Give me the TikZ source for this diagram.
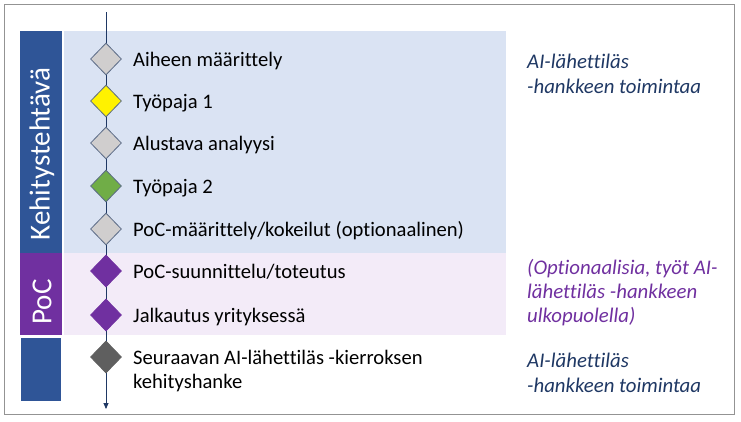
\documentclass[tikz,border=0pt]{standalone}
\usepackage{fontspec}
\setmainfont{Carlito}[Ligatures=NoCommon]
\usetikzlibrary{shapes.geometric,arrows.meta}
\definecolor{lightblue}{HTML}{DAE3F3}
\definecolor{lavender}{HTML}{F3EBF8}
\definecolor{barblue}{HTML}{2F5597}
\definecolor{barpurple}{HTML}{7030A0}
\definecolor{navy}{HTML}{1F3864}
\definecolor{dgray}{HTML}{D0CECE}
\definecolor{dedge}{HTML}{5B6B86}
\definecolor{dgreen}{HTML}{70AD47}
\definecolor{ddark}{HTML}{5F5F5F}
\tikzset{
  dia/.style={diamond,draw=dedge,line width=0.8pt,minimum width=31pt,minimum height=32pt,inner sep=0pt},
  steptext/.style={anchor=base west,font=\fontsize{20.6}{23.5}\selectfont,inner sep=0pt,text=black,align=left},
  sidetext/.style={font=\itshape\fontsize{20.8}{24.5}\selectfont,align=left,anchor=base west,inner sep=0pt},
  barlabel/.style={rotate=90,text=white,font=\fontsize{29}{30}\selectfont,inner sep=0pt}
}
\begin{document}
\begin{tikzpicture}[x=1pt,y=-1pt]
\useasboundingbox (0,0) rectangle (741,421);
\fill[white] (0,0) rectangle (741,421);
\draw[gray!85,line width=1pt] (4,4) rectangle (734,414);
% bands
\fill[lightblue] (64,31) rectangle (506,253);
\fill[lavender] (64,253) rectangle (506,335);
\fill[barblue] (20,31) rectangle (62,253);
\fill[barpurple] (20,253) rectangle (62,335);
\fill[barblue] (21,338) rectangle (61,401);
\node[barlabel] (lk) at (42,154) {Kehitystehtävä};
\node[barlabel] (lp) at (42,302) {PoC};
% timeline
\coordinate (top) at (106,12);
\coordinate (bot) at (106,409);
\draw[navy,line width=0.8pt,-{Triangle[length=6pt,width=5pt]}] (top) -- (bot);
% diamonds
\node[dia,fill=dgray] (d1) at (106,59) {};
\node[dia,fill=yellow] (d2) at (106,101) {};
\node[dia,fill=dgray] (d3) at (106,143) {};
\node[dia,fill=dgreen] (d4) at (106,186) {};
\node[dia,fill=dgray] (d5) at (106,229) {};
\node[dia,fill=barpurple,draw=barpurple] (d6) at (106,271) {};
\node[dia,fill=barpurple,draw=barpurple] (d7) at (106,315) {};
\node[dia,fill=ddark,draw=ddark] (d8) at (106,357) {};
% step texts
\node[steptext] (t1) at (133,66) {Aiheen määrittely};
\node[steptext] (t2) at (133,108) {Työpaja 1};
\node[steptext] (t3) at (133,150) {Alustava analyysi};
\node[steptext] (t4) at (133,193) {Työpaja 2};
\node[steptext] (t5) at (133,236) {PoC-määrittely/kokeilut (optionaalinen)};
\node[steptext] (t6) at (133,278) {PoC-suunnittelu/toteutus};
\node[steptext] (t7) at (133,322) {Jalkautus yrityksessä};
\node[steptext] (t8) at (133,388) {Seuraavan AI-lähettiläs -kierroksen\\kehityshanke};
% side texts
\node[sidetext,text=navy] (s1) at (527,93) {AI-lähettiläs\\-hankkeen toimintaa};
\node[sidetext,text=barpurple,font=\itshape\fontsize{20.8}{24}\selectfont] (s2) at (527,322) {(Optionaalisia, työt AI-\\lähettiläs -hankkeen\\ulkopuolella)};
\node[sidetext,text=navy] (s3) at (527,392) {AI-lähettiläs\\-hankkeen toimintaa};
\end{tikzpicture}
\end{document}
